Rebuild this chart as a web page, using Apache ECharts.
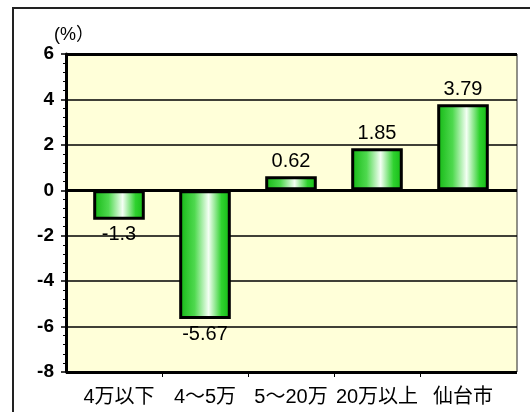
<!DOCTYPE html>
<html><head><meta charset="utf-8">
<script src="https://cdn.jsdelivr.net/npm/echarts@6/dist/echarts.min.js"></script>
<style>html,body{margin:0;padding:0;background:#fff}#c{width:530px;height:412px}</style>
</head><body><div id="c"></div>
<script>
var categories = ['4万以下', '4～5万', '5～20万', '20万以上', '仙台市'];
var values = [-1.3, -5.67, 0.62, 1.85, 3.79];
var yMin = -8, yMax = 6, yInterval = 2;
var unitLabel = '(%）';
// category boundaries (between bands) where the x-axis ticks sit
var boundaryTicks = [1, 2, 3, 4];

var chart = echarts.init(document.getElementById('c'), null, {renderer: 'canvas'});
var barGrad = new echarts.graphic.LinearGradient(0, 0, 1, 0, [
  {offset: 0, color: '#12b812'},
  {offset: 0.3, color: '#4fd94f'},
  {offset: 0.57, color: '#f4fff4'},
  {offset: 0.82, color: '#2fd22f'},
  {offset: 1, color: '#12b812'}
]);
var font = 'Liberation Sans, Arial, Noto Sans CJK JP, sans-serif';
chart.setOption({
  animation: false,
  backgroundColor: '#fff',
  graphic: [
    {type: 'rect', shape: {x: 13, y: 8, width: 600, height: 500}, style: {fill: 'none', stroke: '#222', lineWidth: 2}, silent: true},
    {type: 'text', left: 54, top: 26, style: {text: unitLabel, fontSize: 18, fontFamily: font, fill: '#000'}, silent: true}
  ],
  grid: [
    {left: 66, top: 54, width: 451, height: 318, show: true, backgroundColor: '#FFFFD9', borderColor: '#222', borderWidth: 1},
    {left: 76, top: 54, width: 430, height: 318}
  ],
  xAxis: [
    {gridIndex: 0, type: 'value', min: 0, max: 1, show: false},
    {gridIndex: 1, type: 'category', data: categories, position: 'bottom',
     axisLine: {show: false, onZero: false},
     axisTick: {show: false},
     axisLabel: {color: '#000', fontSize: 20, margin: 15, fontFamily: font, interval: 0}},
    {gridIndex: 1, type: 'value', min: 0, max: categories.length, position: 'bottom',
     axisLine: {show: false, onZero: false},
     axisTick: {show: true, length: 5, customValues: boundaryTicks, lineStyle: {color: '#000', width: 1}},
     axisLabel: {show: false}, splitLine: {show: false}}
  ],
  yAxis: [
    {gridIndex: 0, type: 'value', min: yMin, max: yMax, interval: yInterval,
     axisLine: {show: true, lineStyle: {color: '#000', width: 3}},
     axisTick: {show: true, length: 5, lineStyle: {color: '#000', width: 1.5}},
     minorTick: {show: true, splitNumber: 5, length: 3, lineStyle: {color: '#000', width: 1}},
     axisLabel: {color: '#000', fontSize: 19, fontWeight: 'bold', margin: 12, fontFamily: font},
     splitLine: {show: true, lineStyle: {color: '#000', width: 1.5}}},
    {gridIndex: 1, type: 'value', min: yMin, max: yMax, interval: yInterval, show: false}
  ],
  series: [
    {type: 'line', xAxisIndex: 0, yAxisIndex: 0, data: [], silent: true,
     markLine: {silent: true, symbol: 'none', label: {show: false},
       lineStyle: {color: '#000', width: 3, type: 'solid'},
       data: [{yAxis: yMax}, {yAxis: 0}, {yAxis: yMin}]}},
    {type: 'bar', xAxisIndex: 1, yAxisIndex: 1, barWidth: '60%',
     itemStyle: {color: barGrad, borderColor: '#000', borderWidth: 3},
     label: {show: true, color: '#000', fontSize: 20, fontFamily: font, distance: 5},
     data: values.map(function (v) { return {value: v, label: {position: v < 0 ? 'bottom' : 'top'}}; })}
  ]
});
</script></body></html>
